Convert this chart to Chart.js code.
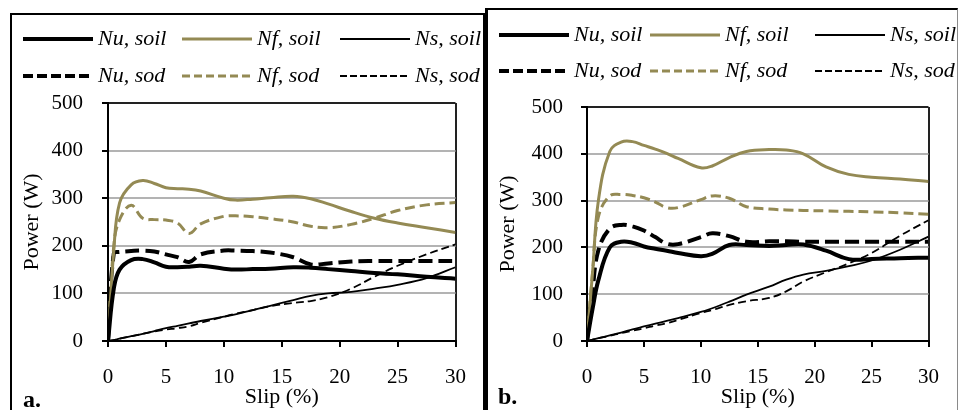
<!DOCTYPE html>
<html>
<head>
<meta charset="utf-8">
<script src="https://cdn.jsdelivr.net/npm/chart.js@4.4.0/dist/chart.umd.min.js"></script>
<style>
  body { margin: 0; background: #fff; width: 959px; height: 410px; overflow: hidden; position: relative;
         font-family: "Liberation Serif", "Times New Roman", serif; }
  .panel { position: absolute; box-sizing: border-box; }
  #panelA { left: 10px; top: 13px; width: 475px; height: 420px; border: 2px solid #000; border-bottom: none; }
  #panelB { left: 485px; top: 8px; width: 473px; height: 420px; border-top: 2px solid #000;
            border-left: 3px solid #000; border-right: 1px solid #8a8a8a; }
  canvas { position: absolute; }
  #chartA { left: 12px; top: 15px; }
  #chartB { left: 488px; top: 10px; }
  .tag { position: absolute; font-weight: bold; font-size: 24px; line-height: 24px; }
</style>
</head>
<body>
<div class="panel" id="panelA"></div>
<div class="panel" id="panelB"></div>
<canvas id="chartA" width="472" height="395"></canvas>
<canvas id="chartB" width="469" height="400"></canvas>
<div class="tag" style="left:23px; top:387px;">a.</div>
<div class="tag" style="left:498px; top:384px;">b.</div>
<script>
// slip values (%) shared by every curve
const slip = [0, 0.5, 1, 2, 3, 4, 5, 6, 7, 8, 10, 11, 12.5, 14, 16, 17.5, 19, 21, 23, 25, 27.5, 30];

// panel a - power (W)
const nuSoilA = [0, 110, 150, 170, 172, 165, 156, 155, 156, 158, 152, 150, 151, 152, 155, 154, 151, 147, 143, 140, 135, 131];
const nfSoilA = [0, 190, 290, 328, 337, 331, 322, 320, 319, 315, 300, 296, 298, 301, 304, 299, 288, 272, 258, 248, 238, 228];
const nsSoilA = [0, 2, 5, 10, 15, 21, 27, 32, 37, 42, 51, 56, 65, 74, 86, 95, 100, 103, 110, 118, 132, 155];
const nuSodA  = [0, 184, 187, 189, 190, 188, 182, 176, 166, 182, 190, 190, 189, 186, 176, 161, 163, 167, 168, 168, 168, 168];
const nfSodA  = [0, 200, 255, 285, 258, 255, 254, 248, 226, 246, 262, 263, 261, 257, 250, 241, 238, 245, 258, 274, 286, 291];
const nsSodA  = [0, 2, 5, 10, 15, 20, 24, 27, 31, 38, 51, 57, 65, 73, 80, 84, 92, 110, 135, 158, 182, 203];

// panel b - power (W)
const nuSoilB = [0, 70, 130, 200, 212, 210, 202, 197, 193, 188, 181, 186, 205, 205, 203, 205, 206, 193, 175, 175, 177, 178];
const nfSoilB = [0, 150, 300, 405, 425, 426, 418, 410, 401, 390, 370, 374, 392, 405, 409, 408, 400, 372, 356, 350, 346, 341];
const nsSoilB = [0, 3, 6, 12, 18, 25, 31, 37, 43, 49, 62, 70, 84, 99, 116, 131, 142, 150, 160, 172, 195, 223];
const nuSodB  = [0, 110, 194, 240, 248, 245, 236, 222, 208, 207, 222, 230, 224, 212, 213, 213, 212, 212, 212, 212, 212, 212];
const nfSodB  = [0, 150, 265, 310, 313, 311, 306, 297, 285, 285, 302, 310, 305, 287, 282, 280, 279, 278, 277, 276, 274, 271];
const nsSodB  = [0, 3, 6, 11, 17, 22, 27, 33, 38, 45, 60, 66, 77, 85, 92, 106, 127, 147, 166, 188, 225, 258];

const seriesNames = ['Nu, soil', 'Nf, soil', 'Ns, soil', 'Nu, sod', 'Nf, sod', 'Ns, sod'];

const TAN = '#948a54';
const SERIF = '"Liberation Serif", "Times New Roman", serif';
const styles = [
  { color: '#000', width: 4,   dash: [],      legendDash: [] },
  { color: TAN,    width: 3,   dash: [],      legendDash: [] },
  { color: '#000', width: 1.8, dash: [],      legendDash: [] },
  { color: '#000', width: 4,   dash: [14, 6], legendDash: [10, 4] },
  { color: TAN,    width: 3,   dash: [10, 5], legendDash: [8, 4] },
  { color: '#000', width: 1.8, dash: [8, 4],  legendDash: [7, 3] }
];

function points(ys) {
  return slip.map((s, i) => ({ x: s, y: ys[i] }));
}

// draws the two-row line legend at fixed spots above the plot
const lineLegend = {
  id: 'lineLegend',
  afterDraw(chart, args, opts) {
    const ctx = chart.ctx;
    ctx.save();
    chart.data.datasets.forEach((ds, i) => {
      const x = opts.cols[i % 3];
      const y = opts.rows[Math.floor(i / 3)];
      ctx.beginPath();
      ctx.strokeStyle = ds.borderColor;
      ctx.lineWidth = ds.borderWidth;
      ctx.setLineDash(ds.legendDash);
      ctx.moveTo(x, y);
      ctx.lineTo(x + 70, y);
      ctx.stroke();
      ctx.setLineDash([]);
      ctx.fillStyle = '#000';
      ctx.font = 'italic 22px ' + SERIF;
      ctx.textBaseline = 'middle';
      ctx.fillText(ds.label, x + 75, y);
    });
    ctx.restore();
  }
};

function makeChart(id, series, layout) {
  const datasets = series.map((ys, i) => ({
    label: seriesNames[i],
    data: points(ys),
    borderColor: styles[i].color,
    borderWidth: styles[i].width,
    borderDash: styles[i].dash,
    legendDash: styles[i].legendDash,
    pointRadius: 0,
    fill: false,
    tension: 0.4
  }));

  return new Chart(document.getElementById(id), {
    type: 'line',
    data: { datasets: datasets },
    plugins: [lineLegend],
    options: {
      responsive: false,
      animation: false,
      layout: { padding: layout.padding },
      plugins: {
        legend: { display: false },
        tooltip: { enabled: false },
        lineLegend: { cols: layout.cols, rows: layout.rows }
      },
      scales: {
        x: {
          type: 'linear',
          min: 0,
          max: 30,
          afterFit: s => { s.height = 69; },
          ticks: { stepSize: 5, padding: 18, color: '#000', font: { family: SERIF, size: 21 } },
          grid: {
            drawOnChartArea: true,
            color: c => (c.tick && c.tick.value === 30) ? '#222' : 'rgba(0,0,0,0)',
            lineWidth: 2,
            tickColor: '#000',
            tickLength: 6
          },
          border: { color: '#000', width: 2 },
          title: { display: true, text: 'Slip (%)', color: '#000', padding: 0, font: { family: SERIF, size: 22 } }
        },
        y: {
          min: 0,
          max: 500,
          afterFit: s => { s.width = layout.yWidth; },
          ticks: { stepSize: 100, padding: layout.yPad, color: '#000', font: { family: SERIF, size: 21 } },
          grid: {
            color: c => (c.tick && c.tick.value === 500) ? '#222' : '#b3b3b3',
            lineWidth: 2,
            tickColor: '#000',
            tickLength: 6
          },
          border: { color: '#000', width: 2 },
          title: { display: true, text: 'Power (W)', color: '#000', padding: 0, font: { family: SERIF, size: 22 } }
        }
      }
    }
  });
}

makeChart('chartA', [nuSoilA, nfSoilA, nsSoilA, nuSodA, nfSodA, nsSodA], {
  padding: { left: 7, right: 27, top: 88, bottom: 0 },
  yWidth: 89,
  yPad: 19,
  cols: [11, 170, 328],
  rows: [24, 61]
});

makeChart('chartB', [nuSoilB, nfSoilB, nsSoilB, nuSodB, nfSodB, nsSodB], {
  padding: { left: 7, right: 25, top: 97, bottom: 0 },
  yWidth: 92,
  yPad: 18,
  cols: [11, 162, 327],
  rows: [25, 61]
});
</script>
</body>
</html>
